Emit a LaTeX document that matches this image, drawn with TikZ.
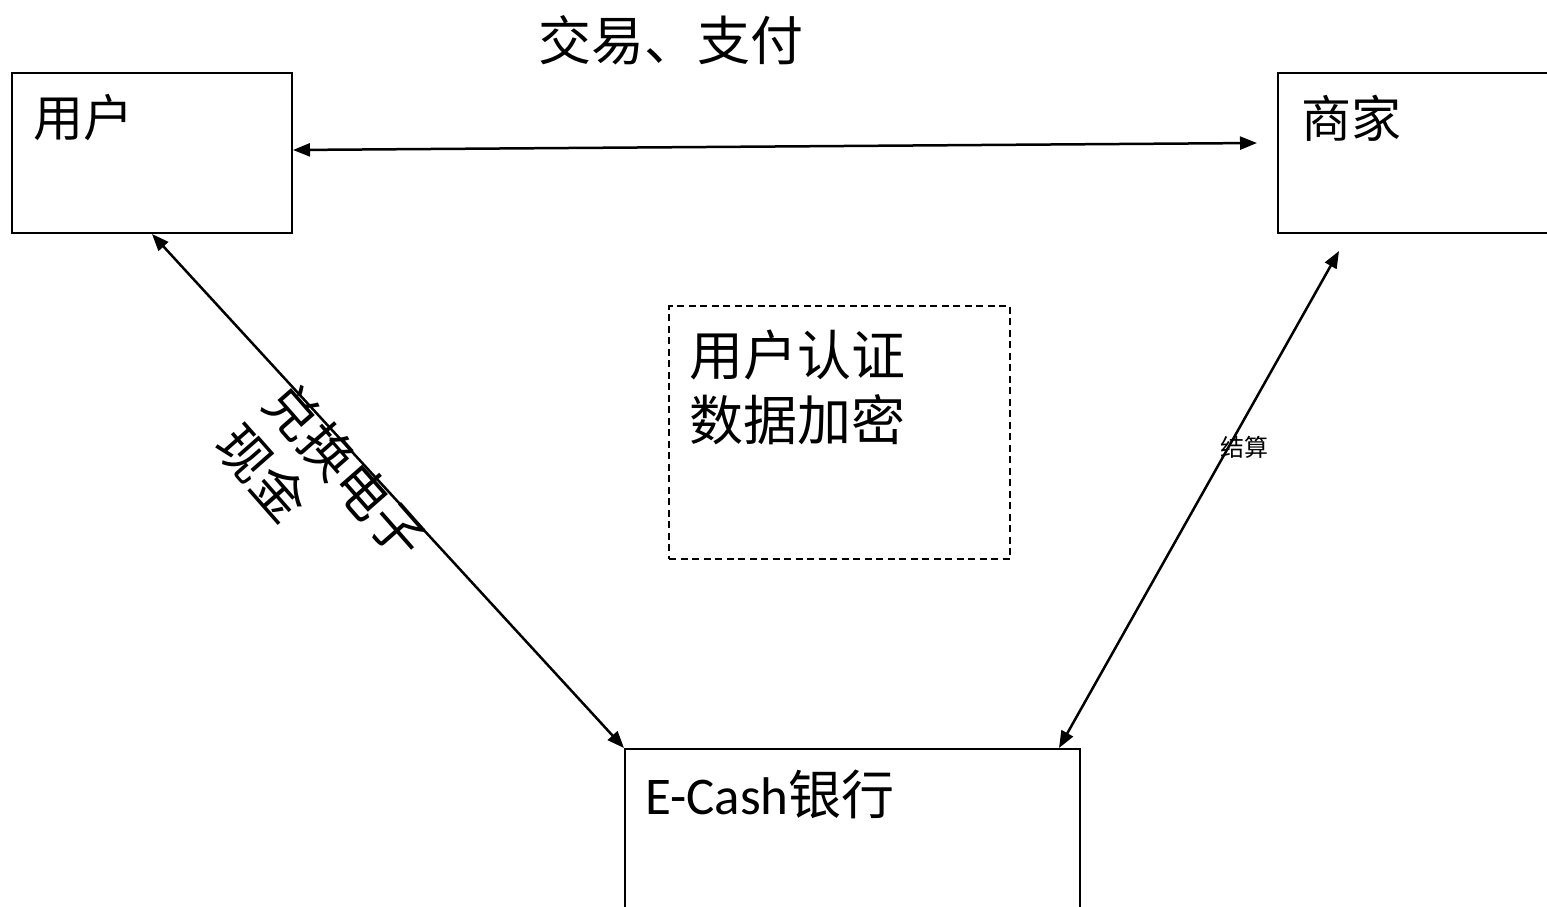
\documentclass[tikz,border=0pt]{standalone}
\usepackage{fontspec}
\setmainfont{Noto Sans CJK SC}
\newfontfamily\carl{Carlito}
\usetikzlibrary{arrows.meta,calc}
\begin{document}
\begin{tikzpicture}[x=1pt,y=-1pt,
  box/.style={draw=black,line width=2pt,rectangle,inner sep=0pt},
  dbox/.style={draw=black,line width=2pt,dash pattern=on 7pt off 4.5pt,rectangle,inner sep=0pt},
  lbl/.style={inner sep=0pt,text=black},
  conn/.style={line width=2.5pt,{Triangle[length=17pt,width=13pt]}-{Triangle[length=17pt,width=13pt]}},
]
\useasboundingbox (0,0) rectangle (1547,907);
\clip (0,0) rectangle (1547,907);
% boxes
\node[box,minimum width=280pt,minimum height=160pt] (user) at (152,153) {};
\node[box,minimum width=282pt,minimum height=160pt] (merchant) at (1419,153) {};
\node[box,minimum width=455pt,minimum height=171pt] (bank) at (852.5,834.5) {};
\node[dbox,minimum width=341pt,minimum height=253pt] (sec) at (839.5,432.5) {};
% texts
\node[lbl,font=\fontsize{53}{60}\selectfont] (title) at (671,40) {交易、支付};
\node[lbl,anchor=west,font=\fontsize{50}{60}\selectfont] (usert) at (33,118) {用户};
\node[lbl,anchor=west,font=\fontsize{50}{60}\selectfont] (merchantt) at (1301,118) {商家};
\node[lbl,anchor=north west,align=left,font=\fontsize{54}{65}\selectfont] (sect) at (689,330) {用户认证\\数据加密};
\node[lbl,anchor=west,font=\fontsize{53}{60}\selectfont] (bankt) at (645,794) {{\carl E-Cash}银行};
% connectors
\draw[conn] ([yshift=3pt]user.east) -- ([xshift=-20pt,yshift=10pt]merchant.west);
\draw[conn] (user.south) -- (bank.north west);
\draw[conn] ([xshift=62pt,yshift=-17pt]merchant.south west) -- ([xshift=-22pt]bank.north east);
% connector labels
\node[lbl,font=\fontsize{24}{28}\selectfont] (settle) at (1244,447) {结算};
\node[lbl,rotate=-48.7,align=left,font=\fontsize{53}{64}\selectfont] (exch) at (322,492) {兑换电子\\现金};
\end{tikzpicture}
\end{document}
